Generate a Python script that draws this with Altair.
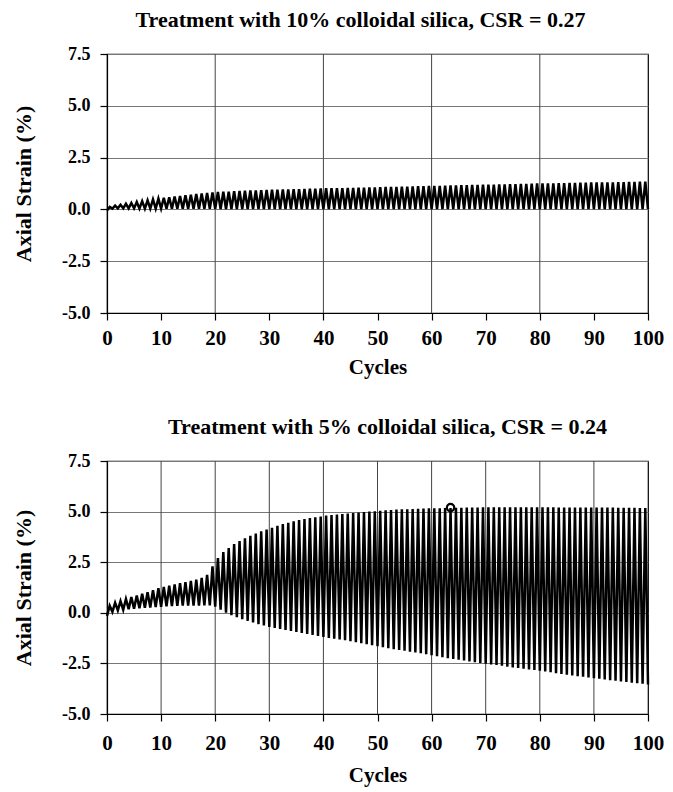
import altair as alt
import pandas as pd

# ---- data (per-cycle peaks and troughs, % axial strain) ----
x_ticks_top = [0, 10, 20, 30, 40, 50, 60, 70, 80, 90, 100]
x_grid_top = [20, 40, 60, 80]
x_ticks_bot = [0, 5, 10, 15, 20, 25, 30, 35, 40, 45, 50, 55, 60, 65, 70, 75, 80, 85, 90, 95, 100]
x_grid_bot = [10, 20, 30, 40, 50, 60, 70, 80, 90]
y_ticks = [-5.0, -2.5, 0.0, 2.5, 5.0, 7.5]

title_top = "Treatment with 10% colloidal silica, CSR = 0.27"
title_bot = "Treatment with 5% colloidal silica, CSR = 0.24"

# 10% colloidal silica: peak of each cycle 1..100
top_peak = [0.12, 0.18, 0.22, 0.27, 0.31, 0.36, 0.40, 0.44, 0.48, 0.52,
            0.56, 0.59, 0.62, 0.65, 0.68, 0.71, 0.74, 0.77, 0.79, 0.82,
            0.84, 0.85, 0.86, 0.88, 0.89, 0.90, 0.91, 0.92, 0.93, 0.94,
            0.95, 0.95, 0.96, 0.97, 0.98, 0.98, 0.99, 1.00, 1.00, 1.01,
            1.02, 1.02, 1.03, 1.03, 1.04, 1.04, 1.05, 1.05, 1.06, 1.06,
            1.07, 1.08, 1.08, 1.09, 1.10, 1.10, 1.11, 1.12, 1.12, 1.13,
            1.14, 1.14, 1.15, 1.16, 1.16, 1.17, 1.17, 1.18, 1.18, 1.19,
            1.20, 1.20, 1.21, 1.21, 1.22, 1.22, 1.23, 1.23, 1.24, 1.25,
            1.25, 1.26, 1.26, 1.27, 1.27, 1.28, 1.28, 1.29, 1.29, 1.30,
            1.30, 1.30, 1.31, 1.31, 1.32, 1.32, 1.33, 1.33, 1.34, 1.34]
# trough at cycle boundaries 0..100
top_trough = [-0.05, 0.04, 0.05, 0.05, 0.05, 0.05, 0.04, 0.04, 0.04, 0.04,
              0.04, 0.03, 0.03, 0.03, 0.03, 0.03, 0.03, 0.03, 0.03, 0.03,
              0.03, 0.02, 0.02, 0.02, 0.02, 0.02, 0.02, 0.02, 0.02, 0.02,
              0.02, 0.02, 0.02, 0.02, 0.02, 0.02, 0.02, 0.02, 0.02, 0.02,
              0.02, 0.01, 0.01, 0.01, 0.01, 0.01, 0.01, 0.01, 0.01, 0.01,
              0.01, 0.01, 0.01, 0.01, 0.01, 0.01, 0.01, 0.01, 0.01, 0.01,
              0.01, 0.01, 0.01, 0.01, 0.01, 0.01, 0.01, 0.01, 0.01, 0.01,
              0.01, 0.01, 0.01, 0.01, 0.01, 0.01, 0.01, 0.01, 0.01, 0.01,
              0.01, 0.01, 0.01, 0.01, 0.01, 0.01, 0.01, 0.01, 0.01, 0.01,
              0.01, 0.01, 0.01, 0.01, 0.01, 0.01, 0.01, 0.01, 0.01, 0.01,
              0.01]

# 5% colloidal silica: peak of each cycle 1..100
bot_peak = [0.35, 0.50, 0.58, 0.68, 0.78, 0.86, 0.94, 1.02, 1.12, 1.22,
            1.28, 1.34, 1.40, 1.46, 1.52, 1.58, 1.64, 1.72, 1.88, 2.30,
            2.70, 3.00, 3.20, 3.40, 3.55, 3.68, 3.80, 3.92, 4.03, 4.12,
            4.20, 4.30, 4.38, 4.45, 4.52, 4.58, 4.63, 4.68, 4.72, 4.76,
            4.80, 4.83, 4.86, 4.88, 4.90, 4.93, 4.95, 4.98, 5.00, 5.02,
            5.04, 5.06, 5.08, 5.10, 5.11, 5.12, 5.13, 5.14, 5.15, 5.16,
            5.17, 5.17, 5.18, 5.18, 5.19, 5.19, 5.20, 5.20, 5.20, 5.21,
            5.21, 5.21, 5.21, 5.21, 5.21, 5.21, 5.21, 5.21, 5.21, 5.21,
            5.21, 5.21, 5.21, 5.20, 5.20, 5.20, 5.20, 5.20, 5.20, 5.20,
            5.20, 5.20, 5.20, 5.20, 5.19, 5.19, 5.19, 5.19, 5.18, 5.18]
# trough at cycle boundaries 0..100
bot_trough = [-0.15, 0.05, 0.12, 0.15, 0.18, 0.20, 0.22, 0.25, 0.26, 0.28,
              0.30, 0.32, 0.33, 0.34, 0.35, 0.35, 0.36, 0.36, 0.37, 0.37,
              0.30, 0.15, 0.00, -0.12, -0.22, -0.32, -0.40, -0.48, -0.56, -0.63,
              -0.70, -0.75, -0.80, -0.85, -0.90, -0.95, -1.00, -1.05, -1.10, -1.15,
              -1.20, -1.24, -1.28, -1.32, -1.36, -1.40, -1.45, -1.50, -1.55, -1.60,
              -1.65, -1.70, -1.75, -1.80, -1.84, -1.88, -1.92, -1.96, -2.00, -2.05,
              -2.10, -2.15, -2.20, -2.24, -2.28, -2.32, -2.36, -2.40, -2.44, -2.48,
              -2.52, -2.55, -2.58, -2.62, -2.66, -2.70, -2.73, -2.76, -2.80, -2.83,
              -2.86, -2.90, -2.94, -2.98, -3.02, -3.06, -3.10, -3.13, -3.16, -3.20,
              -3.23, -3.26, -3.30, -3.33, -3.36, -3.39, -3.42, -3.45, -3.48, -3.51,
              -3.54]

marker_x = [63.5]
marker_y = [5.2]


def trace(peaks, troughs):
    xs, ys = [], []
    for i, p in enumerate(peaks):
        xs += [i, i + 0.5]
        ys += [troughs[i], p]
    xs.append(len(peaks))
    ys.append(troughs[len(peaks)])
    return pd.DataFrame({"x": xs, "y": ys})


FONT = "Liberation Serif"
W = 541

xscale = alt.Scale(domain=[0, 100], nice=False, zero=False)
yscale = alt.Scale(domain=[-5, 7.5], nice=False, zero=False)

y_axis = alt.Axis(
    values=y_ticks,
    title="Axial Strain (%)",
    grid=True,
    labelFlush=False,
    labelExpr="(datum.value < 0 ? '-' : '') + format(abs(datum.value), '.1f')",
)


def panel(df, title, dx, offset, height, ticks, grid_vals, lab_pad, tit_pad, extra=None):
    x_axis = alt.Axis(
        values=ticks,
        title="Cycles",
        grid=False,
        labelFlush=False,
        labelPadding=lab_pad,
        titlePadding=tit_pad,
        labelExpr="datum.value % 10 === 0 ? datum.label : ''",
    )
    grid = alt.Chart(pd.DataFrame({"x": grid_vals})).mark_rule(
        color="#444", strokeWidth=1
    ).encode(x=alt.X("x:Q", scale=xscale, axis=x_axis))
    line = alt.Chart(df).mark_line(color="black", strokeWidth=2.5).encode(
        x=alt.X("x:Q", scale=xscale, axis=x_axis),
        y=alt.Y("y:Q", scale=yscale, axis=y_axis),
        order=alt.Order("x:Q"),
    )
    layers = [grid, line]
    if extra is not None:
        layers.append(extra)
    return alt.layer(*layers).properties(
        width=W,
        height=height,
        title=alt.TitleParams(
            text=title, font=FONT, fontSize=22, fontWeight="bold",
            anchor="middle", dx=dx, offset=offset, color="black",
        ),
    )


marker = alt.Chart(pd.DataFrame({"x": marker_x, "y": marker_y})).mark_point(
    shape="circle", filled=False, color="black", size=55, strokeWidth=2.2, opacity=1
).encode(x=alt.X("x:Q", scale=xscale), y=alt.Y("y:Q", scale=yscale))

top = panel(trace(top_peak, top_trough), title_top, -17, 13, 259,
            x_ticks_top, x_grid_top, 7, 8)
bot = panel(trace(bot_peak, bot_trough), title_bot, 10, 13, 253,
            x_ticks_bot, x_grid_bot, 11, 11, marker)

chart = alt.vconcat(top, bot, spacing=37).properties(
    padding={"left": 11, "top": 8, "right": 5, "bottom": 5},
    background="white",
).configure_view(
    stroke="black", strokeWidth=1.2
).configure_axis(
    labelFont=FONT, labelFontWeight="bold", labelColor="black",
    titleFont=FONT, titleFontWeight="bold", titleColor="black",
    domainColor="black", domainWidth=1.2, tickColor="black", tickWidth=1.2,
    tickSize=7, gridColor="#777", gridWidth=1,
).configure_axisY(
    labelFontSize=18, titleFontSize=22, labelPadding=10, titlePadding=26,
).configure_axisX(
    labelFontSize=21, titleFontSize=21,
)

chart.save("out.html", embed_options={"renderer": "svg", "actions": False})
